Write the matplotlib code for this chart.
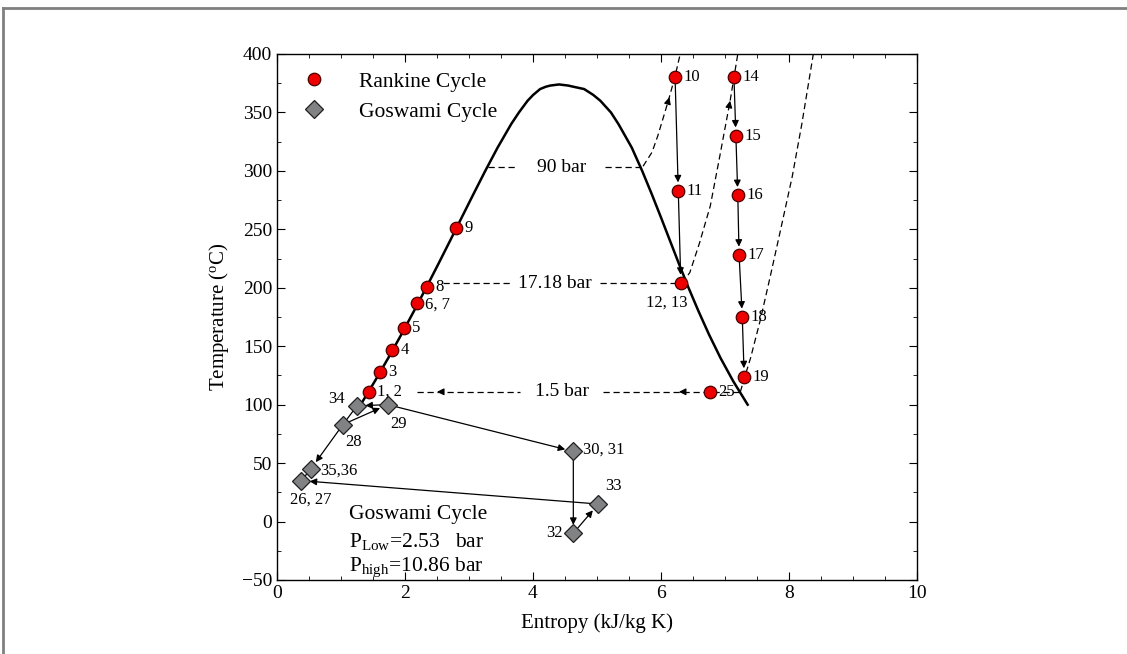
import matplotlib

matplotlib.use("Agg")
import matplotlib.pyplot as plt
from matplotlib.lines import Line2D
from matplotlib.ticker import MultipleLocator

plt.rcParams["font.family"] = ["Liberation Serif", "DejaVu Serif"]
plt.rcParams["mathtext.fontset"] = "custom"
plt.rcParams["mathtext.rm"] = "Liberation Serif"
plt.rcParams["mathtext.it"] = "Liberation Serif:italic"

# saturation dome of water (entropy kJ/kg K, temperature C), liquid side then vapour side
dome_T = [95, 100, 120, 140, 160, 180, 200, 220, 240, 260, 280, 300, 320, 340, 350, 360, 365, 370, 372, 373.0,
          373.95,
          373.0, 372, 370, 365, 360, 350, 340, 320, 300, 280, 260, 240, 220, 200, 180, 160, 140, 120, 100]
dome_s = [1.2503, 1.3072, 1.5279, 1.7392, 1.9426, 2.1392, 2.3305, 2.5177, 2.7020, 2.8849, 3.0681, 3.2540,
          3.4476, 3.6587, 3.7800, 3.9155, 4.0027, 4.1108, 4.2000, 4.2700,
          4.4070,
          4.5500, 4.6300, 4.7996, 4.9412, 5.0526, 5.2177, 5.3359, 5.5423, 5.7059, 5.8565, 6.0010, 6.1423,
          6.2840, 6.4302, 6.5857, 6.7502, 6.9294, 7.1292, 7.3541]

# superheated isobars (dashed)
p90_s = [5.72, 5.86, 5.95, 6.06, 6.13, 6.22, 6.30]
p90_T = [304, 316, 330, 350, 363, 381, 400]
p1718_s = [6.33, 6.45, 6.60, 6.77, 6.92, 7.08, 7.20]
p1718_T = [204, 213, 238, 270, 313, 360, 400]
p15_s = [7.24, 7.31, 7.40, 7.55, 7.70, 7.85, 8.05, 8.20, 8.38]
p15_T = [111, 124, 140, 172, 208, 245, 295, 340, 400]

# Rankine cycle states
rankine_labels = ["1, 2", "3", "4", "5", "6, 7", "8", "9", "10", "11", "12, 13",
                  "14", "15", "16", "17", "18", "19", "25"]
rankine_s = [1.44, 1.61, 1.80, 1.98, 2.19, 2.34, 2.80, 6.22, 6.27, 6.31,
             7.14, 7.17, 7.20, 7.22, 7.27, 7.30, 6.77]
rankine_T = [111, 128, 147, 166, 187, 201, 251, 380, 283, 204,
             380, 330, 279, 228, 175, 124, 111]

# Goswami cycle states
goswami_labels = ["34", "29", "28", "35,36", "26, 27", "30, 31", "33", "32"]
goswami_s = [1.25, 1.73, 1.03, 0.53, 0.38, 4.63, 5.02, 4.63]
goswami_T = [99, 100, 83, 45, 35, 60, 15, -10]

rankine_arrows = [("10", "11"), ("11", "12, 13"), ("14", "15"), ("15", "16"),
                  ("16", "17"), ("17", "18"), ("18", "19")]
goswami_arrows = [("29", "34"), ("28", "29"), ("28", "35,36"), ("33", "26, 27"),
                  ("29", "30, 31"), ("30, 31", "32"), ("32", "33")]
goswami_plain = [("34", "28"), ("26, 27", "35,36")]

# label offsets in points: (dx, dy, ha, va)
label_pos = {
    "1, 2": (6, 0, "left", "center"), "3": (6, 0, "left", "center"), "4": (6, 0, "left", "center"),
    "5": (6, 0, "left", "center"), "6, 7": (6, -1, "left", "center"), "8": (6, 0, "left", "center"),
    "9": (6, 0, "left", "center"), "10": (6, 0, "left", "center"), "11": (6, 0, "left", "center"),
    "12, 13": (-10, -8, "center", "top"), "14": (6, 0, "left", "center"), "15": (6, 0, "left", "center"),
    "16": (6, 0, "left", "center"), "17": (6, 0, "left", "center"), "18": (6, 0, "left", "center"),
    "19": (6, 0, "left", "center"), "25": (6, 0, "left", "center"),
    "34": (-9, 5, "right", "center"), "29": (2, -8, "left", "top"), "28": (2, -7, "left", "top"),
    "35,36": (7, -1, "left", "center"), "26, 27": (7, -8, "center", "top"),
    "30, 31": (7, 1, "left", "center"), "33": (5, 7, "left", "bottom"), "32": (-8, 0, "right", "center"),
}

fig = plt.figure(figsize=(11.27, 6.54), dpi=100)
ax = fig.add_axes([277 / 1127, 1 - 580 / 654, 640 / 1127, 526 / 654])

dash = dict(color="black", lw=0.9, linestyle=(0, (5, 3)))
ax.plot(dome_s, dome_T, color="black", lw=1.8, zorder=2)
ax.plot(p90_s, p90_T, **dash, zorder=1)
ax.plot(p1718_s, p1718_T, **dash, zorder=1)
ax.plot(p15_s, p15_T, **dash, zorder=1)

# horizontal isobar segments with their labels
ax.plot([3.30, 3.77], [303, 303], **dash)
ax.plot([5.13, 5.72], [303, 303], **dash)
ax.text(4.45, 303, "90 bar", ha="center", va="center", fontsize=14)
ax.plot([2.60, 3.64], [204, 204], **dash)
ax.plot([5.05, 6.31], [204, 204], **dash)
ax.text(4.34, 204, "17.18 bar", ha="center", va="center", fontsize=14)
ax.plot([2.19, 3.80], [111, 111], **dash)
ax.plot([5.09, 7.24], [111, 111], **dash)
ax.text(4.45, 111, "1.5 bar", ha="center", va="center", fontsize=14)

head = dict(arrowstyle="-|>", color="black", lw=0.9, mutation_scale=10, shrinkA=0, shrinkB=0)
for tip, tail in [((2.50, 111), (2.56, 111)), ((6.28, 111), (6.34, 111)),
                  ((6.13, 363), (6.115, 360)), ((7.08, 360), (7.07, 357))]:
    ax.annotate("", xy=tip, xytext=tail, arrowprops=head)

r_idx = {lab: i for i, lab in enumerate(rankine_labels)}
g_idx = {lab: i for i, lab in enumerate(goswami_labels)}
link = dict(arrowstyle="-|>", color="black", lw=0.9, mutation_scale=10, shrinkA=5, shrinkB=6)
for a, b in rankine_arrows:
    ax.annotate("", xy=(rankine_s[r_idx[b]], rankine_T[r_idx[b]]),
                xytext=(rankine_s[r_idx[a]], rankine_T[r_idx[a]]), arrowprops=link, zorder=3)
for a, b in goswami_arrows:
    ax.annotate("", xy=(goswami_s[g_idx[b]], goswami_T[g_idx[b]]),
                xytext=(goswami_s[g_idx[a]], goswami_T[g_idx[a]]), arrowprops=link, zorder=3)
for a, b in goswami_plain:
    ax.plot([goswami_s[g_idx[a]], goswami_s[g_idx[b]]], [goswami_T[g_idx[a]], goswami_T[g_idx[b]]],
            color="black", lw=0.9, zorder=3)

ax.plot(rankine_s, rankine_T, "o", ms=9, mfc="#ee0000", mec="#4a0000", mew=0.9, ls="none",
        zorder=5, label="Rankine Cycle")
ax.plot(goswami_s, goswami_T, "D", ms=9, mfc="#808284", mec="#202020", mew=0.9, ls="none",
        zorder=5, label="Goswami Cycle")

for labels, xs, ys in [(rankine_labels, rankine_s, rankine_T), (goswami_labels, goswami_s, goswami_T)]:
    for lab, x, y in zip(labels, xs, ys):
        dx, dy, ha, va = label_pos[lab]
        ax.annotate(lab, (x, y), xytext=(dx, dy), textcoords="offset points",
                    ha=ha, va=va, fontsize=12, zorder=6)

ax.text(1.12, 6, "Goswami Cycle", ha="left", va="center", fontsize=15.5)
ax.text(1.12, -17, r"P$_{\rm Low}$=2.53   bar", ha="left", va="center", fontsize=15.5)
ax.text(1.12, -39, r"P$_{\rm high}$=10.86 bar", ha="left", va="center", fontsize=15.5)

ax.legend(loc="upper left", bbox_to_anchor=(0.0, 0.995), frameon=False, fontsize=15.5,
          handletextpad=1.1, borderaxespad=0.3, labelspacing=0.45, borderpad=0.4)

ax.set_xlim(0, 10)
ax.set_ylim(-50, 400)
ax.xaxis.set_major_locator(MultipleLocator(2))
ax.xaxis.set_minor_locator(MultipleLocator(0.5))
ax.yaxis.set_major_locator(MultipleLocator(50))
ax.yaxis.set_minor_locator(MultipleLocator(25))
ax.tick_params(which="both", direction="in", top=True, right=True, labelsize=14)
ax.tick_params(which="major", length=6)
ax.tick_params(which="minor", length=3)
ax.set_xlabel("Entropy (kJ/kg K)", fontsize=15, labelpad=8)
ax.set_ylabel(r"Temperature ($^{\rm o}$C)", fontsize=15, labelpad=8)
for sp in ax.spines.values():
    sp.set_linewidth(1.0)

# grey frame remnants at top and left of the original image
fig.add_artist(Line2D([3 / 1127, 1], [1 - 8 / 654, 1 - 8 / 654], transform=fig.transFigure,
                      color="#808080", lw=2))
fig.add_artist(Line2D([3 / 1127, 3 / 1127], [0, 1 - 8 / 654], transform=fig.transFigure,
                      color="#808080", lw=2))

fig.savefig("out.png", dpi=100, facecolor="white")
